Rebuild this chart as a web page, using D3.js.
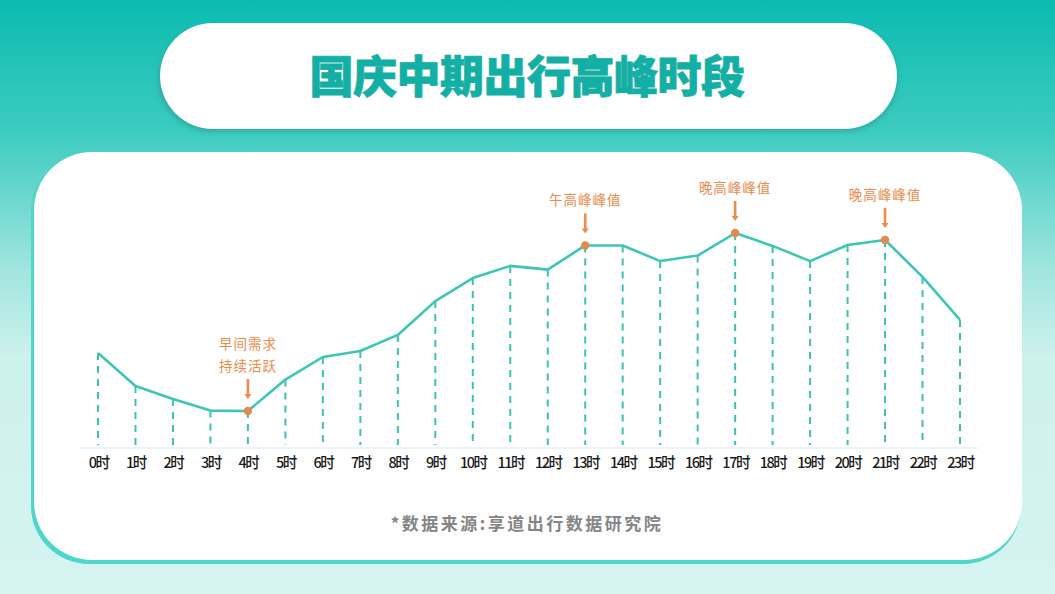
<!DOCTYPE html>
<html><head><meta charset="utf-8">
<script src="https://cdn.jsdelivr.net/npm/d3@7"></script>
<style>
html,body{margin:0;padding:0;width:1055px;height:594px;overflow:hidden;}
svg{display:block;font-family:"Noto Sans CJK SC","Noto Sans",sans-serif;}
</style></head>
<body>
<svg id="chart" width="1055" height="594"></svg>
<script>
// ---- data ----
const title = "国庆中期出行高峰时段";
const hours = ["0时","1时","2时","3时","4时","5时","6时","7时","8时","9时","10时","11时","12时","13时","14时","15时","16时","17时","18时","19时","20时","21时","22时","23时"];
const values = [40.4,26.1,20.4,15.4,15.2,28.9,38.7,41.3,48.3,63.0,73.0,78.3,76.7,87.2,87.2,80.4,82.8,92.6,87.0,80.4,87.4,89.6,73.5,54.8];
const highlightHours = ["4时","13时","17时","21时"];
const highlightLabels = [["早间需求","持续活跃"],["午高峰峰值"],["晚高峰峰值"],["晚高峰峰值"]];
const sourceNote = "*数据来源:享道出行数据研究院";

// ---- drawing ----
const svg = d3.select("#chart");
const W = 1055, H = 594;
const defs = svg.append("defs");
const bg = defs.append("linearGradient").attr("id","bg").attr("x1",0).attr("y1",0).attr("x2",0).attr("y2",1);
[[0,"#0cbbb0"],[0.22,"#3ccbc0"],[0.45,"#9fe5de"],[0.6,"#cdf1ed"],[1,"#d6f4f1"]].forEach(s=>bg.append("stop").attr("offset",s[0]).attr("stop-color",s[1]));
const blur = defs.append("filter").attr("id","sh").attr("x","-10%").attr("y","-20%").attr("width","120%").attr("height","150%");
blur.append("feGaussianBlur").attr("stdDeviation",2);

svg.append("rect").attr("width",W).attr("height",H).attr("fill","url(#bg)");

// title pill
svg.append("rect").attr("x",158).attr("y",26).attr("width",740).attr("height",106).attr("rx",53)
  .attr("fill","#2a9d94").attr("opacity",0.6).attr("filter","url(#sh)");
svg.append("rect").attr("x",160).attr("y",23).attr("width",737).attr("height",106).attr("rx",53)
  .attr("fill","#ffffff");
svg.append("text").attr("x",527).attr("y",74).attr("text-anchor","middle").attr("dominant-baseline","central")
  .attr("font-size",44).attr("font-weight",900).attr("fill","#14afa4").attr("stroke","#14afa4").attr("stroke-width",0.8)
  .attr("letter-spacing","-0.5px").text(title);

// main card
svg.append("rect").attr("x",31).attr("y",153).attr("width",990).attr("height",411).attr("rx",58)
  .attr("fill","#4fd6ca");
svg.append("rect").attr("x",34).attr("y",152).attr("width",988).attr("height",408).attr("rx",58)
  .attr("fill","#ffffff");

// scales
const x = d3.scalePoint().domain(hours).range([98,960]);
const y = d3.scaleLinear().domain([0,100]).range([446,216]);

// baseline
svg.append("line").attr("x1",80).attr("x2",978).attr("y1",448).attr("y2",448)
  .attr("stroke","#e3f3f1").attr("stroke-width",1.5);

// x axis labels
const xAxis = d3.axisBottom(x).tickSize(0).tickPadding(0);
const gx = svg.append("g").attr("transform","translate(0,458)").call(xAxis);
gx.select(".domain").remove();
gx.selectAll("text").attr("font-size",14.5).attr("font-weight",500).attr("fill","#1a1a1a").attr("letter-spacing","-1.5px")
  .attr("font-family","'Noto Sans CJK SC',sans-serif").attr("dy","0.71em");

// dashed drop lines
svg.append("g").selectAll("line").data(hours).join("line")
  .attr("x1",d=>x(d)).attr("x2",d=>x(d))
  .attr("y1",(d,i)=>y(values[i])).attr("y2",y(0)-1)
  .attr("stroke","#3cc2b3").attr("stroke-width",2).attr("stroke-dasharray","7,6");

// main line
const line = d3.line().x((d,i)=>x(hours[i])).y(d=>y(d));
svg.append("path").datum(values).attr("d",line).attr("fill","none")
  .attr("stroke","#3cc6b6").attr("stroke-width",2.6).attr("stroke-linejoin","round");

// highlights
const orange = "#ee8a4a";
const hl = svg.append("g");
highlightHours.forEach((h,k)=>{
  const i = hours.indexOf(h);
  const px = x(h), py = y(values[i]);
  hl.append("circle").attr("cx",px).attr("cy",py).attr("r",4.2).attr("fill","#e08b4f");
  // arrow
  hl.append("line").attr("x1",px).attr("x2",px).attr("y1",py-32).attr("y2",py-16)
    .attr("stroke",orange).attr("stroke-width",2.6);
  hl.append("path").attr("d",`M${px-3.5},${py-17} L${px+3.5},${py-17} L${px},${py-12} Z`).attr("fill",orange);
  const lines = highlightLabels[k];
  lines.forEach((t,j)=>{
    hl.append("text").attr("x",px).attr("y",py-46-(lines.length-1-j)*22)
      .attr("text-anchor","middle").attr("dominant-baseline","central")
      .attr("font-size",13.5).attr("fill",orange).attr("letter-spacing","1px").text(t);
  });
});

// source
svg.append("text").attr("x",527).attr("y",522).attr("text-anchor","middle").attr("dominant-baseline","central")
  .attr("font-size",17).attr("font-weight",700).attr("fill","#858585").attr("letter-spacing","2.5px").text(sourceNote);
</script>
</body></html>
